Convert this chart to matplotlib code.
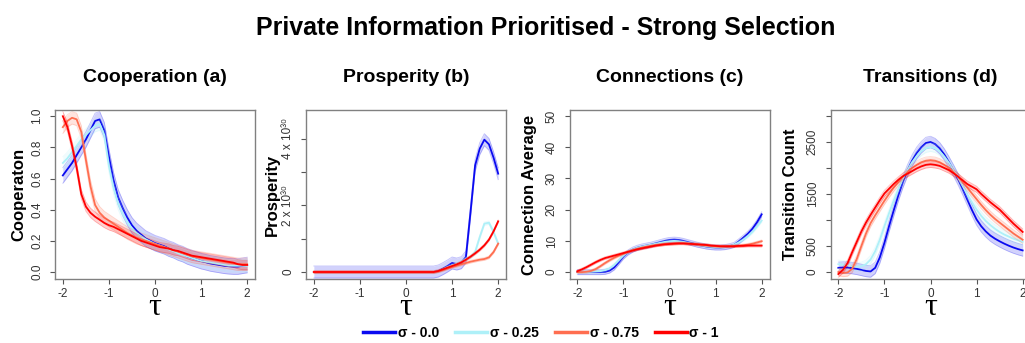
import numpy as np
import matplotlib
matplotlib.use("Agg")
import matplotlib.pyplot as plt
from matplotlib.lines import Line2D

plt.rcParams['font.family'] = ['Liberation Sans', 'DejaVu Sans']

# tau grid shared by every panel (-2.0, -1.9, ..., 2.0)
tau = np.linspace(-2, 2, 41)

sigma_labels = ["σ - 0.0", "σ - 0.25", "σ - 0.75", "σ - 1"]
colours = ["#0a0af0", "#aef0f8", "#ff6e50", "#ff0000"]

# Cooperation (a)
coop_s0 = [0.62, 0.66, 0.70, 0.75, 0.80, 0.85, 0.91, 0.97, 0.98, 0.91, 0.74, 0.59, 0.48, 0.41, 0.35,
           0.30, 0.265, 0.24, 0.215, 0.20, 0.185, 0.175, 0.165, 0.15, 0.14, 0.125, 0.115, 0.10, 0.09,
           0.08, 0.07, 0.063, 0.055, 0.05, 0.045, 0.04, 0.037, 0.035, 0.035, 0.04, 0.045]
coop_s025 = [0.70, 0.73, 0.77, 0.81, 0.85, 0.88, 0.91, 0.94, 0.95, 0.88, 0.68, 0.54, 0.44, 0.37, 0.32,
             0.28, 0.25, 0.23, 0.21, 0.195, 0.18, 0.17, 0.16, 0.145, 0.135, 0.12, 0.11, 0.10, 0.09,
             0.08, 0.07, 0.065, 0.06, 0.055, 0.05, 0.045, 0.04, 0.04, 0.04, 0.04, 0.04]
coop_s075 = [0.93, 0.97, 0.99, 0.98, 0.90, 0.72, 0.55, 0.43, 0.38, 0.35, 0.33, 0.31, 0.29, 0.27, 0.25,
             0.235, 0.22, 0.21, 0.20, 0.19, 0.18, 0.17, 0.16, 0.15, 0.14, 0.13, 0.12, 0.11, 0.10,
             0.095, 0.09, 0.085, 0.08, 0.075, 0.07, 0.065, 0.06, 0.055, 0.05, 0.05, 0.05]
coop_s1 = [1.00, 0.93, 0.81, 0.67, 0.50, 0.42, 0.38, 0.355, 0.335, 0.315, 0.30, 0.29, 0.275, 0.26, 0.245,
           0.23, 0.215, 0.20, 0.19, 0.18, 0.17, 0.16, 0.155, 0.15, 0.14, 0.135, 0.125, 0.115, 0.105,
           0.10, 0.095, 0.09, 0.085, 0.08, 0.075, 0.07, 0.065, 0.06, 0.05, 0.045, 0.045]
coop_se = [0.05, 0.04, 0.04, 0.03]

# Prosperity (b), in units of 10^30
zeros = [0.0] * 27
pros_s0 = zeros + [0.03, 0.10, 0.18, 0.27, 0.24, 0.28, 0.45, 1.8, 3.2, 3.7, 3.97, 3.83, 3.43, 2.95]
pros_s025 = zeros + [0.02, 0.08, 0.15, 0.20, 0.25, 0.30, 0.40, 0.45, 0.60, 1.05, 1.45, 1.48, 1.20, 0.85]
pros_s075 = zeros + [0.02, 0.06, 0.11, 0.15, 0.19, 0.23, 0.27, 0.31, 0.34, 0.37, 0.39, 0.44, 0.60, 0.85]
pros_s1 = zeros + [0.03, 0.08, 0.13, 0.18, 0.23, 0.29, 0.37, 0.46, 0.56, 0.67, 0.80, 0.97, 1.22, 1.52]
pros_se = [0.18, 0.05, 0.04, 0.04]

# Connections (c)
conn_s0 = [0.0, 0.0, 0.0, 0.0, 0.0, 0.0, 0.1, 0.5, 1.5, 3.2, 5.0, 6.3, 7.2, 7.8, 8.2, 8.5, 8.8, 9.2,
           9.6, 10.0, 10.3, 10.4, 10.3, 10.0, 9.6, 9.2, 8.8, 8.5, 8.2, 8.0, 7.9, 7.9, 8.0, 8.3, 8.7,
           9.8, 11.0, 12.3, 13.9, 16.0, 18.5]
conn_s025 = [0.0, 0.0, 0.0, 0.1, 0.2, 0.3, 0.6, 1.2, 2.3, 3.8, 5.3, 6.4, 7.2, 7.8, 8.2, 8.5, 8.8, 9.1,
             9.4, 9.7, 9.9, 10.0, 9.9, 9.7, 9.4, 9.1, 8.8, 8.5, 8.3, 8.1, 8.0, 8.0, 8.1, 8.3, 8.8,
             9.5, 10.4, 11.5, 12.9, 14.6, 16.5]
conn_s075 = [0.0, 0.0, 0.1, 0.4, 1.0, 1.9, 2.9, 3.8, 4.6, 5.3, 5.9, 6.5, 7.0, 7.4, 7.8, 8.1, 8.4, 8.6,
             8.8, 9.0, 9.1, 9.2, 9.2, 9.2, 9.1, 9.0, 8.9, 8.7, 8.6, 8.4, 8.3, 8.2, 8.2, 8.2, 8.3,
             8.4, 8.6, 8.8, 9.1, 9.5, 9.9]
conn_s1 = [0.3, 0.9, 1.6, 2.4, 3.2, 3.9, 4.5, 4.9, 5.3, 5.7, 6.1, 6.5, 6.9, 7.3, 7.6, 7.9, 8.2, 8.5,
           8.7, 8.9, 9.0, 9.1, 9.2, 9.2, 9.1, 9.0, 8.9, 8.8, 8.7, 8.5, 8.4, 8.3, 8.3, 8.3, 8.3,
           8.4, 8.4, 8.5, 8.5, 8.5, 8.5]
conn_se = [0.8, 0.5, 0.4, 0.4]

# Transitions (d)
trans_s0 = [80, 85, 85, 75, 60, 40, 20, 10, 80, 280, 560, 880, 1180, 1470, 1730, 1950, 2140, 2290,
            2400, 2480, 2500, 2460, 2380, 2260, 2110, 1950, 1780, 1590, 1390, 1190, 1010, 880, 780,
            700, 640, 590, 545, 505, 470, 440, 415]
trans_s025 = [150, 140, 130, 110, 100, 110, 150, 240, 400, 620, 880, 1130, 1370, 1590, 1790, 1960,
              2110, 2230, 2320, 2380, 2400, 2380, 2320, 2220, 2100, 1960, 1810, 1650, 1490, 1340,
              1200, 1080, 980, 900, 830, 770, 720, 680, 640, 610, 580]
trans_s075 = [0, -20, -10, 60, 250, 500, 740, 940, 1090, 1230, 1370, 1500, 1620, 1730, 1830, 1920,
              2000, 2060, 2110, 2140, 2150, 2140, 2110, 2060, 2000, 1920, 1830, 1730, 1620, 1510,
              1400, 1290, 1190, 1100, 1020, 950, 880, 810, 740, 680, 620]
trans_s1 = [-40, 40, 170, 380, 580, 780, 950, 1100, 1240, 1380, 1510, 1600, 1690, 1770, 1840, 1890,
            1940, 1990, 2030, 2060, 2070, 2060, 2040, 2000, 1960, 1900, 1830, 1760, 1690, 1640,
            1590, 1500, 1420, 1340, 1270, 1200, 1110, 1020, 930, 850, 770]
trans_se = [110, 80, 70, 60]

panels = [
    ("Cooperation (a)", "Cooperaton", [coop_s0, coop_s025, coop_s075, coop_s1], coop_se),
    ("Prosperity (b)", "Prosperity", [pros_s0, pros_s025, pros_s075, pros_s1], pros_se),
    ("Connections (c)", "Connection Average", [conn_s0, conn_s025, conn_s075, conn_s1], conn_se),
    ("Transitions (d)", "Transition Count", [trans_s0, trans_s025, trans_s075, trans_s1], trans_se),
]

ylims = [(-0.045, 1.04), (-0.21, 4.86), (-2.2, 51.9), (-135, 3115)]
yticks = [np.arange(0, 1.01, 0.2), [0, 1, 2, 3, 4], np.arange(0, 51, 10), np.arange(0, 3001, 500)]
yticklabels = [["0.0", "0.2", "0.4", "0.6", "0.8", "1.0"],
               ["0", "", "2 x 10³⁰", "", "4 x 10³⁰"],
               ["0", "10", "20", "30", "40", "50"],
               ["0", "500", "", "1500", "", "2500", ""]]
lefts = [55, 306, 569.5, 830.5]
label_x = [-0.145, -0.13, -0.1625, -0.1625]

W, H = 1025, 343
fig = plt.figure(figsize=(W / 100, H / 100), dpi=100)
fig.text(546 / W, 1 - 28 / H, "Private Information Prioritised - Strong Selection",
         ha="center", va="center", fontsize=18, fontweight="bold")

for i, (title, ylab, series, se) in enumerate(panels):
    ax = fig.add_axes([lefts[i] / W, (H - 279) / H, 200 / W, 169 / H])
    for y, c, e in zip(series, colours, se):
        y = np.asarray(y, dtype=float)
        ax.fill_between(tau, y - e, y + e, color=c, alpha=0.18, lw=0)
        ax.plot(tau, y - e, color=c, alpha=0.25, lw=0.6)
        ax.plot(tau, y + e, color=c, alpha=0.25, lw=0.6)
        ax.plot(tau, y, color=c, lw=1.3)
    ax.set_xlim(-2.17, 2.17)
    ax.set_ylim(*ylims[i])
    ax.set_xticks([-2, -1, 0, 1, 2])
    ax.set_xticklabels(["-2", "-1", "0", "1", "2"])
    ax.set_yticks(yticks[i])
    ax.set_yticklabels(yticklabels[i], rotation=90, va="center")
    ax.tick_params(colors="#555555", labelcolor="#333333", labelsize=8.5, length=3.6, width=0.8)
    ax.tick_params(axis="y", pad=5)
    ax.tick_params(axis="x", pad=3)
    for s in ax.spines.values():
        s.set_color("#808080")
        s.set_linewidth(1)
    ax.set_title(title, fontsize=14, fontweight="bold", y=1.195, va="center", pad=0)
    ax.set_ylabel(ylab, fontsize=12, fontweight="bold")
    ax.yaxis.set_label_coords(label_x[i], 0.5)
    ax.set_xlabel("τ", fontsize=23, family="Liberation Serif", va="baseline")
    ax.xaxis.set_label_coords(0.5, -0.213)

handles = [Line2D([], [], color=c, lw=2.5) for c in colours]
fig.legend(handles, sigma_labels, ncol=4, loc="center", bbox_to_anchor=(0.528, 1 - 333 / H),
           frameon=False, prop={"weight": "bold", "size": 10}, handlelength=2.3,
           handletextpad=0.2, columnspacing=1.15)

fig.savefig("out.png", dpi=100)
